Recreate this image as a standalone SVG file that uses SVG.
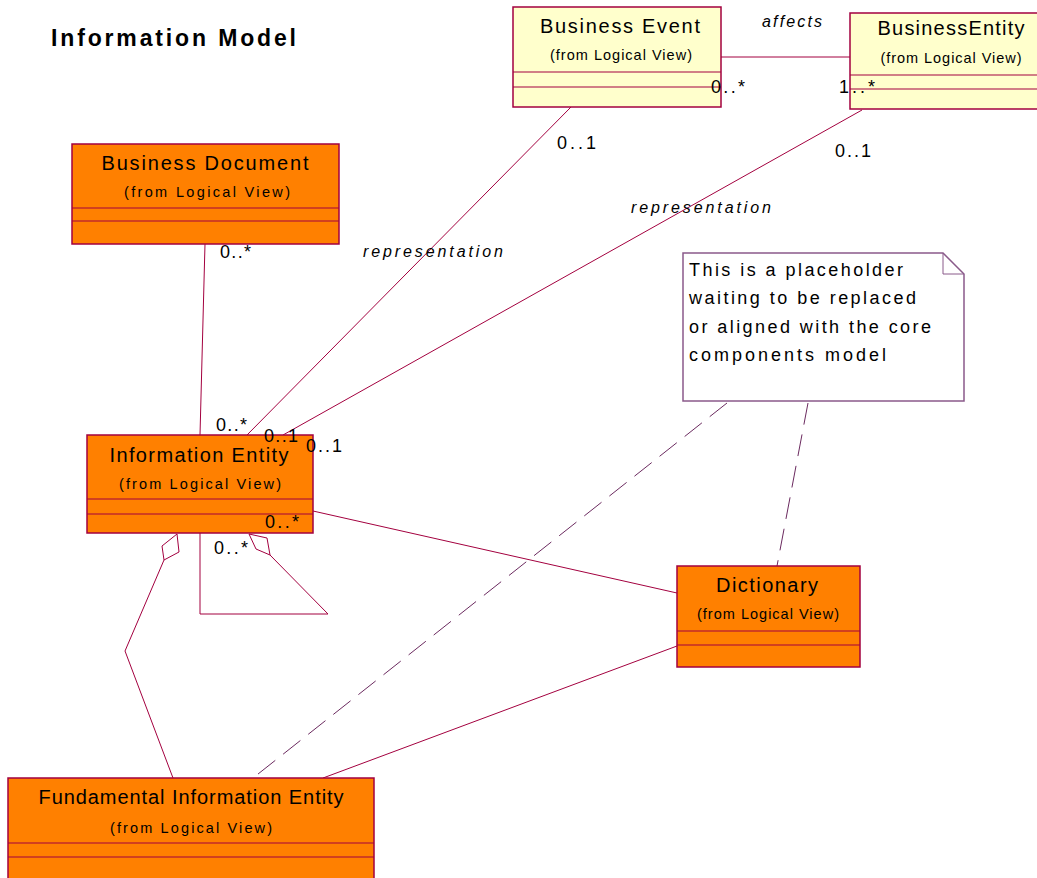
<svg xmlns="http://www.w3.org/2000/svg" width="1037" height="878" viewBox="0 0 1037 878">
  <style>
    text { font-family: "Liberation Sans", Arial, sans-serif; fill: #000; }
    .title { font-size: 23px; font-weight: bold; }
    .cname { font-size: 20px; text-anchor: middle; }
    .csub { font-size: 14.5px; text-anchor: middle; }
    .mult { font-size: 18px; }
    .role { font-size: 16px; font-style: italic; }
    .note { font-size: 18px; }
    .box-o { fill: #FF8000; stroke: #A3003F; stroke-width: 1.5; }
    .box-y { fill: #FFFFCC; stroke: #A3003F; stroke-width: 1.5; }
    .sep { stroke: #A3003F; stroke-width: 1.2; fill: none; }
    .conn { stroke: #A3003F; stroke-width: 1; fill: none; }
    .dash { stroke: #6B2A5F; stroke-width: 1; fill: none; stroke-dasharray: 22 10; }
    .notebox { fill: #FFFFFF; stroke: #8A5A8A; stroke-width: 1.5; }
  </style>

  <rect width="1037" height="878" fill="#FFFFFF"/>

  <text class="title" x="51" y="46" textLength="245" lengthAdjust="spacing">Information Model</text>

  <!-- associations and note links -->
  <g id="connectors">
    <line class="conn" x1="721" y1="57" x2="850" y2="57"/>
    <line class="conn" x1="571" y1="107" x2="247" y2="435"/>
    <line class="conn" x1="862" y1="110" x2="283" y2="435"/>
    <line class="conn" x1="205" y1="244" x2="200" y2="435"/>
    <line class="conn" x1="313" y1="511" x2="677" y2="593"/>
    <line class="conn" x1="677" y1="646" x2="323" y2="778"/>
    <!-- aggregation to Fundamental Information Entity -->
    <polygon class="conn" points="177,534 179,552 164,560 162,546" fill="#FFFFFF"/>
    <polyline class="conn" points="164,560 125,651 173,778"/>
    <!-- recursive aggregation on Information Entity -->
    <polygon class="conn" points="249,534 256,549 270,555 267,538" fill="#FFFFFF"/>
    <polyline class="conn" points="200,533 200,614 328,614 270,555"/>
    <!-- note anchors -->
    <line class="dash" x1="727" y1="403" x2="253" y2="778"/>
    <line class="dash" x1="808" y1="403" x2="777" y2="566"/>

    <text class="role" x="762" y="27" textLength="60" lengthAdjust="spacing">affects</text>
    <text class="role" x="631" y="213" textLength="140" lengthAdjust="spacing">representation</text>
    <text class="role" x="363" y="257" textLength="140" lengthAdjust="spacing">representation</text>
  </g>

  <g id="business-event">
    <rect class="box-y" x="513" y="7" width="208" height="100"/>
    <line class="sep" x1="513" y1="72" x2="721" y2="72"/>
    <line class="sep" x1="513" y1="87" x2="721" y2="87"/>
    <text class="cname" x="620" y="33" textLength="160" lengthAdjust="spacing">Business Event</text>
    <text class="csub" x="621" y="60" textLength="142" lengthAdjust="spacing">(from Logical View)</text>
  </g>

  <g id="business-entity">
    <rect class="box-y" x="850" y="13" width="200" height="96"/>
    <line class="sep" x1="850" y1="75" x2="1050" y2="75"/>
    <line class="sep" x1="850" y1="89" x2="1050" y2="89"/>
    <text class="cname" x="951" y="35" textLength="147" lengthAdjust="spacing">BusinessEntity</text>
    <text class="csub" x="951" y="63" textLength="141" lengthAdjust="spacing">(from Logical View)</text>
  </g>

  <g id="business-document">
    <rect class="box-o" x="72" y="144" width="267" height="100"/>
    <line class="sep" x1="72" y1="208" x2="339" y2="208"/>
    <line class="sep" x1="72" y1="221" x2="339" y2="221"/>
    <text class="cname" x="205" y="170" textLength="207" lengthAdjust="spacing">Business Document</text>
    <text class="csub" x="207" y="197" textLength="166" lengthAdjust="spacing">(from Logical View)</text>
  </g>

  <g id="note">
    <path class="notebox" d="M683,253 L943,253 L964,274 L964,401 L683,401 Z"/>
    <polyline class="conn" style="stroke:#8A5A8A" points="943,253 943,274 964,274"/>
    <text class="note" x="689" y="276" textLength="214" lengthAdjust="spacing">This is a placeholder</text>
    <text class="note" x="689" y="304" textLength="227" lengthAdjust="spacing">waiting to be replaced</text>
    <text class="note" x="689" y="333" textLength="242" lengthAdjust="spacing">or aligned with the core</text>
    <text class="note" x="689" y="361" textLength="197" lengthAdjust="spacing">components model</text>
  </g>

  <g id="information-entity">
    <rect class="box-o" x="87" y="435" width="226" height="98"/>
    <line class="sep" x1="87" y1="499" x2="313" y2="499"/>
    <line class="sep" x1="87" y1="514" x2="313" y2="514"/>
    <text class="cname" x="199" y="462" textLength="179" lengthAdjust="spacing">Information Entity</text>
    <text class="csub" x="200" y="489" textLength="162" lengthAdjust="spacing">(from Logical View)</text>
  </g>

  <g id="dictionary">
    <rect class="box-o" x="677" y="566" width="183" height="101"/>
    <line class="sep" x1="677" y1="631" x2="860" y2="631"/>
    <line class="sep" x1="677" y1="645" x2="860" y2="645"/>
    <text class="cname" x="767" y="592" textLength="102" lengthAdjust="spacing">Dictionary</text>
    <text class="csub" x="768" y="619" textLength="142" lengthAdjust="spacing">(from Logical View)</text>
  </g>

  <g id="fundamental-information-entity">
    <rect class="box-o" x="8" y="778" width="366" height="110"/>
    <line class="sep" x1="8" y1="843" x2="374" y2="843"/>
    <line class="sep" x1="8" y1="857" x2="374" y2="857"/>
    <text class="cname" x="191" y="804" textLength="305" lengthAdjust="spacing">Fundamental Information Entity</text>
    <text class="csub" x="191" y="833" textLength="162" lengthAdjust="spacing">(from Logical View)</text>
  </g>

  <!-- association end multiplicities, drawn above the class boxes -->
  <g id="multiplicities">
    <text class="mult" x="711" y="93" textLength="34" lengthAdjust="spacing">0..*</text>
    <text class="mult" x="839" y="93" textLength="36" lengthAdjust="spacing">1..*</text>
    <text class="mult" x="557" y="149" textLength="39" lengthAdjust="spacing">0..1</text>
    <text class="mult" x="835" y="157" textLength="36" lengthAdjust="spacing">0..1</text>
    <text class="mult" x="220" y="258" textLength="31" lengthAdjust="spacing">0..*</text>
    <text class="mult" x="216" y="431" textLength="31" lengthAdjust="spacing">0..*</text>
    <text class="mult" x="264" y="442" textLength="34" lengthAdjust="spacing">0..1</text>
    <text class="mult" x="306" y="452" textLength="36" lengthAdjust="spacing">0..1</text>
    <text class="mult" x="265" y="528" textLength="34" lengthAdjust="spacing">0..*</text>
    <text class="mult" x="214" y="554" textLength="34" lengthAdjust="spacing">0..*</text>
  </g>
</svg>
